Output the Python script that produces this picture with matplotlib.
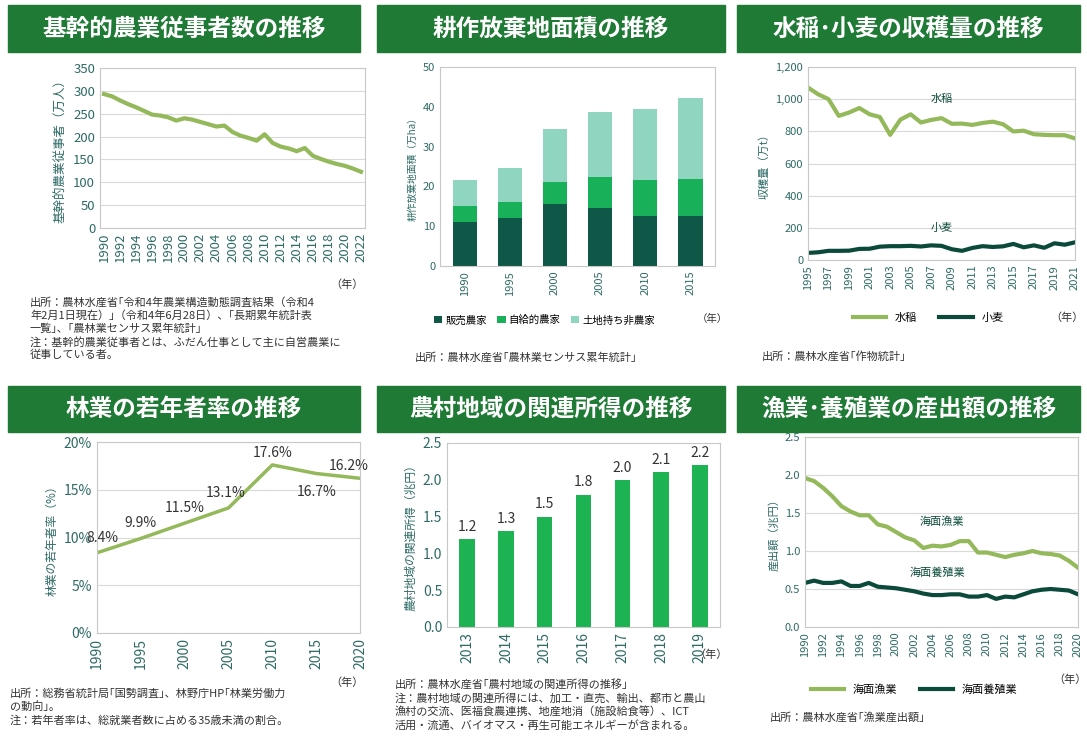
import matplotlib
matplotlib.use("Agg")
import matplotlib.pyplot as plt
from matplotlib.patches import Rectangle

plt.rcParams['font.family'] = ['Noto Sans CJK JP', 'DejaVu Sans']

W, H = 1087, 740
TX = '#2E6B66'
LG = '#94B95A'
DG = '#0B4A3A'
BAN = '#1F7A35'

# data
y1 = list(range(1990, 2023))
v1 = [293,288,279,271,264,256,248,246,242,235,240,237,232,227,222,224,210,202,197,191,205,186,178,174,168,175,158,151,145,140,136,130,123]

y2 = ['1990','1995','2000','2005','2010','2015']
sales = [11,12,15.5,14.5,12.5,12.5]
self_ = [4,4,5.5,7.8,9,9.3]
land = [6.7,8.5,13.5,16.4,18,20.5]

y3 = list(range(1995, 2022))
rice = [1072,1030,1000,896,917,945,906,889,778,873,906,855,871,882,847,848,840,852,860,844,799,804,782,778,776,776,756]
wheat = [44,48,57,57,58,69,70,83,86,86,88,84,91,88,67,57,75,86,81,85,100,79,91,76,104,95,110]

y4 = [1990,1995,2000,2005,2010,2015,2020]
v4 = [8.4,9.9,11.5,13.1,17.6,16.7,16.2]

y5 = ['2013','2014','2015','2016','2017','2018','2019']
v5 = [1.2,1.3,1.5,1.8,2.0,2.1,2.2]

y6 = list(range(1990, 2021))
fish = [1.96,1.92,1.83,1.72,1.59,1.52,1.47,1.47,1.35,1.32,1.25,1.18,1.14,1.04,1.07,1.06,1.08,1.13,1.13,0.98,0.98,0.95,0.92,0.95,0.97,1.00,0.97,0.96,0.94,0.87,0.78]
aqua = [0.58,0.61,0.58,0.58,0.60,0.54,0.54,0.58,0.53,0.52,0.51,0.49,0.47,0.44,0.42,0.42,0.43,0.43,0.40,0.40,0.42,0.37,0.40,0.39,0.43,0.47,0.49,0.50,0.49,0.48,0.43]

fig = plt.figure(figsize=(W/100, H/100), dpi=100)

def px(x0, y0, x1, y1):
    return [x0/W, 1-y1/H, (x1-x0)/W, (y1-y0)/H]

def banner(x0, y0, x1, y1, title):
    fig.patches.append(Rectangle((x0/W, 1-y1/H), (x1-x0)/W, (y1-y0)/H,
                                 transform=fig.transFigure, color=BAN, zorder=0))
    fig.text((x0+x1)/2/W, 1-(y0+y1)/2/H, title, color='white', fontsize=17,
             fontweight='bold', ha='center', va='center')

banner(8, 5, 360, 52, '基幹的農業従事者数の推移')
banner(377, 5, 725, 52, '耕作放棄地面積の推移')
banner(737, 5, 1080, 52, '水稲･小麦の収穫量の推移')
banner(8, 386, 360, 432, '林業の若年者率の推移')
banner(377, 386, 725, 432, '農村地域の関連所得の推移')
banner(737, 386, 1080, 432, '漁業･養殖業の産出額の推移')

def style(ax, fs=9):
    ax.tick_params(colors=TX, labelsize=fs, length=0)
    for s in ax.spines.values():
        s.set_color('#C8C8C8')
    ax.grid(axis='y', color='#D9D9D9', lw=0.8)
    ax.set_axisbelow(True)

# P1
ax = fig.add_axes(px(100, 68, 365, 228))
ax.plot(y1, v1, color=LG, lw=3)
ax.set_ylim(0, 350); ax.set_yticks(range(0, 351, 50))
ax.set_xlim(1989.5, 2022.5); ax.set_xticks(range(1990, 2023, 2))
ax.tick_params(axis='x', rotation=90)
style(ax, 9.5)
ax.set_ylabel('基幹的農業従事者（万人）', color=TX, fontsize=9)
fig.text(330/W, 1-285/H, '（年）', color='#333', fontsize=8, va='center')
fig.text(30/W, 1-297/H, '出所：農林水産省｢令和4年農業構造動態調査結果（令和4\n年2月1日現在）｣（令和4年6月28日）、｢長期累年統計表\n一覧｣、｢農林業センサス累年統計｣\n注：基幹的農業従事者とは、ふだん仕事として主に自営農業に\n従事している者。',
         fontsize=8, color='#333', va='top', linespacing=1.3)

# P2
ax = fig.add_axes(px(440, 67, 715, 266))
b1 = [a+b for a, b in zip(sales, self_)]
ax.bar(y2, sales, width=0.55, color='#0F5746', label='販売農家')
ax.bar(y2, self_, width=0.55, bottom=sales, color='#19B05A', label='自給的農家')
ax.bar(y2, land, width=0.55, bottom=b1, color='#8FD5BF', label='土地持ち非農家')
ax.set_ylim(0, 50); ax.set_yticks(range(0, 51, 10))
ax.tick_params(axis='x', rotation=90)
style(ax, 8)
ax.grid(False)
ax.set_ylabel('耕作放棄地面積（万ha）', color=TX, fontsize=7)
ax.legend(loc='upper center', bbox_to_anchor=(0.38, -0.2), ncol=3, frameon=False,
          fontsize=7.5, handlelength=0.8, handletextpad=0.3, columnspacing=1)
fig.text(697/W, 1-322/H, '（年）', color='#333', fontsize=7.5)
fig.text(415/W, 1-357/H, '出所：農林水産省｢農林業センサス累年統計｣', fontsize=8, color='#333', va='center')

# P3
ax = fig.add_axes(px(808, 67, 1075, 260))
ax.plot(y3, rice, color=LG, lw=3, label='水稲')
ax.plot(y3, wheat, color=DG, lw=3, label='小麦')
ax.set_ylim(0, 1200); ax.set_yticks(range(0, 1201, 200))
ax.set_yticklabels([f'{v:,}' for v in range(0, 1201, 200)])
ax.set_xlim(1995, 2021); ax.set_xticks(range(1995, 2022, 2))
ax.tick_params(axis='x', rotation=90)
style(ax, 8)
ax.set_ylabel('収穫量（万t）', color=TX, fontsize=8)
ax.text(2008, 1000, '水稲', color=DG, fontsize=8, ha='center', va='center')
ax.text(2008, 200, '小麦', color=DG, fontsize=8, ha='center', va='center')
ax.legend(loc='upper center', bbox_to_anchor=(0.45, -0.22), ncol=2, frameon=False,
          fontsize=8, handlelength=3)
fig.text(1050/W, 1-321/H, '（年）', color='#333', fontsize=8)
fig.text(762/W, 1-356/H, '出所：農林水産省｢作物統計｣', fontsize=8, color='#333', va='center')

# P4
ax = fig.add_axes(px(97, 442, 360, 633))
ax.plot(y4, v4, color=LG, lw=2.5)
ax.set_ylim(0, 20); ax.set_yticks(range(0, 21, 5))
ax.set_yticklabels([f'{v}%' for v in range(0, 21, 5)])
ax.set_xlim(1990, 2020); ax.set_xticks(y4)
ax.tick_params(axis='x', rotation=90)
style(ax, 10)
ax.set_ylabel('林業の若年者率（%）', color=TX, fontsize=8.5)
offs = [(4, 8), (0, 8), (0, 8), (-2, 8), (0, 6), (0, -16), (-8, 6)]
for x, v, o in zip(y4, v4, offs):
    ax.annotate(f'{v}%', (x, v), xytext=o, textcoords='offset points', ha='center',
                fontsize=10, color='#333')
fig.text(330/W, 1-686/H, '（年）', color='#333', fontsize=8)
fig.text(10/W, 1-688/H, '出所：総務省統計局｢国勢調査｣、林野庁HP｢林業労働力\nの動向｣。\n注：若年者率は、総就業者数に占める35歳未満の割合。',
         fontsize=8, color='#333', va='top', linespacing=1.3)

# P5
ax = fig.add_axes(px(447, 443, 720, 627))
ax.bar(y5, v5, width=0.4, color='#1DB352')
for i, v in enumerate(v5):
    ax.text(i, v + 0.07, f'{v}', ha='center', va='bottom', fontsize=10, color='#333')
ax.set_ylim(0, 2.5); ax.set_yticks([0, 0.5, 1.0, 1.5, 2.0, 2.5])
ax.set_yticklabels(['0.0', '0.5', '1.0', '1.5', '2.0', '2.5'])
ax.tick_params(axis='x', rotation=90)
style(ax, 10)
ax.grid(False)
ax.set_ylabel('農村地域の関連所得（兆円）', color=TX, fontsize=8.5)
fig.text(694/W, 1-655/H, '（年）', color='#333', fontsize=8, va='center')
fig.text(395/W, 1-679/H, '出所：農林水産省｢農村地域の関連所得の推移｣\n注：農村地域の関連所得には、加工・直売、輸出、都市と農山\n漁村の交流、医福食農連携、地産地消（施設給食等）、ICT\n活用・流通、バイオマス・再生可能エネルギーが含まれる。',
         fontsize=8, color='#333', va='top', linespacing=1.3)

# P6
ax = fig.add_axes(px(805, 437, 1078, 627))
ax.plot(y6, fish, color=LG, lw=3, label='海面漁業')
ax.plot(y6, aqua, color=DG, lw=3, label='海面養殖業')
ax.set_ylim(0, 2.5); ax.set_yticks([0, 0.5, 1.0, 1.5, 2.0, 2.5])
ax.set_yticklabels(['0.0', '0.5', '1.0', '1.5', '2.0', '2.5'])
ax.set_xlim(1990, 2020); ax.set_xticks(range(1990, 2021, 2))
ax.tick_params(axis='x', rotation=90)
style(ax, 8)
ax.set_ylabel('産出額（兆円）', color=TX, fontsize=8)
ax.text(2005, 1.38, '海面漁業', color=DG, fontsize=8, ha='center', va='center')
ax.text(2004.5, 0.72, '海面養殖業', color=DG, fontsize=8, ha='center', va='center')
ax.legend(loc='upper center', bbox_to_anchor=(0.4, -0.25), ncol=2, frameon=False,
          fontsize=8, handlelength=3)
fig.text(1053/W, 1-683/H, '（年）', color='#333', fontsize=8)
fig.text(770/W, 1-717/H, '出所：農林水産省｢漁業産出額｣', fontsize=8, color='#333', va='center')

fig.savefig('out.png', dpi=100)
